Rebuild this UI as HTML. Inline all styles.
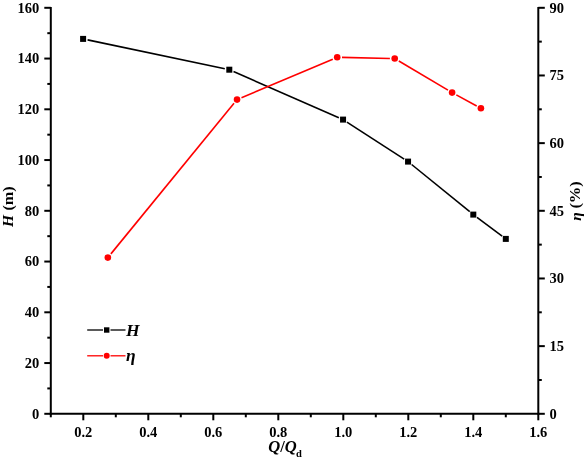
<!DOCTYPE html>
<html><head><meta charset="utf-8"><style>
html,body{margin:0;padding:0;background:#fff;}
body{width:584px;height:460px;overflow:hidden;font-family:"Liberation Serif",serif;}
svg{display:block;will-change:transform;}
</style></head><body>
<svg width="584" height="460" viewBox="0 0 584 460">
<rect width="584" height="460" fill="#fff"/>
<g stroke="#000" stroke-width="2.0" fill="none" stroke-linecap="butt">
<line x1="50.8" y1="6.8999999999999995" x2="50.8" y2="414.8"/>
<line x1="538.3" y1="6.8999999999999995" x2="538.3" y2="414.8"/>
<line x1="49.8" y1="413.8" x2="539.3" y2="413.8"/>
<line x1="50.80" y1="413.8" x2="50.80" y2="417.30"/>
<line x1="83.30" y1="413.8" x2="83.30" y2="420.30"/>
<line x1="115.80" y1="413.8" x2="115.80" y2="417.30"/>
<line x1="148.30" y1="413.8" x2="148.30" y2="420.30"/>
<line x1="180.80" y1="413.8" x2="180.80" y2="417.30"/>
<line x1="213.30" y1="413.8" x2="213.30" y2="420.30"/>
<line x1="245.80" y1="413.8" x2="245.80" y2="417.30"/>
<line x1="278.30" y1="413.8" x2="278.30" y2="420.30"/>
<line x1="310.80" y1="413.8" x2="310.80" y2="417.30"/>
<line x1="343.30" y1="413.8" x2="343.30" y2="420.30"/>
<line x1="375.80" y1="413.8" x2="375.80" y2="417.30"/>
<line x1="408.30" y1="413.8" x2="408.30" y2="420.30"/>
<line x1="440.80" y1="413.8" x2="440.80" y2="417.30"/>
<line x1="473.30" y1="413.8" x2="473.30" y2="420.30"/>
<line x1="505.80" y1="413.8" x2="505.80" y2="417.30"/>
<line x1="538.30" y1="413.8" x2="538.30" y2="420.30"/>
<line x1="50.8" y1="413.80" x2="44.30" y2="413.80"/>
<line x1="50.8" y1="388.43" x2="47.30" y2="388.43"/>
<line x1="50.8" y1="363.05" x2="44.30" y2="363.05"/>
<line x1="50.8" y1="337.68" x2="47.30" y2="337.68"/>
<line x1="50.8" y1="312.30" x2="44.30" y2="312.30"/>
<line x1="50.8" y1="286.93" x2="47.30" y2="286.93"/>
<line x1="50.8" y1="261.55" x2="44.30" y2="261.55"/>
<line x1="50.8" y1="236.18" x2="47.30" y2="236.18"/>
<line x1="50.8" y1="210.80" x2="44.30" y2="210.80"/>
<line x1="50.8" y1="185.43" x2="47.30" y2="185.43"/>
<line x1="50.8" y1="160.05" x2="44.30" y2="160.05"/>
<line x1="50.8" y1="134.68" x2="47.30" y2="134.68"/>
<line x1="50.8" y1="109.30" x2="44.30" y2="109.30"/>
<line x1="50.8" y1="83.93" x2="47.30" y2="83.93"/>
<line x1="50.8" y1="58.55" x2="44.30" y2="58.55"/>
<line x1="50.8" y1="33.18" x2="47.30" y2="33.18"/>
<line x1="50.8" y1="7.80" x2="44.30" y2="7.80"/>
<line x1="538.3" y1="413.80" x2="544.80" y2="413.80"/>
<line x1="538.3" y1="379.97" x2="541.80" y2="379.97"/>
<line x1="538.3" y1="346.13" x2="544.80" y2="346.13"/>
<line x1="538.3" y1="312.30" x2="541.80" y2="312.30"/>
<line x1="538.3" y1="278.47" x2="544.80" y2="278.47"/>
<line x1="538.3" y1="244.63" x2="541.80" y2="244.63"/>
<line x1="538.3" y1="210.80" x2="544.80" y2="210.80"/>
<line x1="538.3" y1="176.97" x2="541.80" y2="176.97"/>
<line x1="538.3" y1="143.13" x2="544.80" y2="143.13"/>
<line x1="538.3" y1="109.30" x2="541.80" y2="109.30"/>
<line x1="538.3" y1="75.47" x2="544.80" y2="75.47"/>
<line x1="538.3" y1="41.63" x2="541.80" y2="41.63"/>
<line x1="538.3" y1="7.80" x2="544.80" y2="7.80"/>
</g>
<g font-family="Liberation Serif" font-weight="bold" font-size="14.5" fill="#000">
<text x="83.30" y="437.0" text-anchor="middle">0.2</text>
<text x="148.30" y="437.0" text-anchor="middle">0.4</text>
<text x="213.30" y="437.0" text-anchor="middle">0.6</text>
<text x="278.30" y="437.0" text-anchor="middle">0.8</text>
<text x="343.30" y="437.0" text-anchor="middle">1.0</text>
<text x="408.30" y="437.0" text-anchor="middle">1.2</text>
<text x="473.30" y="437.0" text-anchor="middle">1.4</text>
<text x="538.30" y="437.0" text-anchor="middle">1.6</text>
<text x="39.3" y="418.70" text-anchor="end">0</text>
<text x="39.3" y="367.95" text-anchor="end">20</text>
<text x="39.3" y="317.20" text-anchor="end">40</text>
<text x="39.3" y="266.45" text-anchor="end">60</text>
<text x="39.3" y="215.70" text-anchor="end">80</text>
<text x="39.3" y="164.95" text-anchor="end">100</text>
<text x="39.3" y="114.20" text-anchor="end">120</text>
<text x="39.3" y="63.45" text-anchor="end">140</text>
<text x="39.3" y="12.70" text-anchor="end">160</text>
<text x="549.5" y="418.70" text-anchor="start">0</text>
<text x="549.5" y="351.03" text-anchor="start">15</text>
<text x="549.5" y="283.37" text-anchor="start">30</text>
<text x="549.5" y="215.70" text-anchor="start">45</text>
<text x="549.5" y="148.03" text-anchor="start">60</text>
<text x="549.5" y="80.37" text-anchor="start">75</text>
<text x="549.5" y="12.70" text-anchor="start">90</text>
</g>
<g stroke="#000" stroke-width="1.6"><line x1="87.60" y1="39.85" x2="224.80" y2="68.75"/><line x1="233.51" y1="71.55" x2="338.84" y2="117.75"/><line x1="346.91" y1="122.10" x2="404.19" y2="159.10"/><line x1="411.62" y1="164.50" x2="469.73" y2="211.70"/><line x1="476.98" y1="217.35" x2="502.12" y2="236.15"/></g>
<g stroke="#f00" stroke-width="1.6"><line x1="110.89" y1="253.88" x2="234.01" y2="103.32"/><line x1="241.47" y1="97.73" x2="332.78" y2="59.17"/><line x1="342.00" y1="57.40" x2="389.90" y2="58.45"/><line x1="398.83" y1="61.00" x2="447.97" y2="90.15"/><line x1="456.31" y1="94.90" x2="476.69" y2="106.00"/></g>
<rect x="80.10" y="35.90" width="6.0" height="6.0" fill="#000"/>
<rect x="226.30" y="66.70" width="6.0" height="6.0" fill="#000"/>
<rect x="340.05" y="116.60" width="6.0" height="6.0" fill="#000"/>
<rect x="405.05" y="158.60" width="6.0" height="6.0" fill="#000"/>
<rect x="470.30" y="211.60" width="6.0" height="6.0" fill="#000"/>
<rect x="502.80" y="235.90" width="6.0" height="6.0" fill="#000"/>
<circle cx="107.85" cy="257.60" r="3.3" fill="#f00"/>
<circle cx="237.05" cy="99.60" r="3.3" fill="#f00"/>
<circle cx="337.20" cy="57.30" r="3.3" fill="#f00"/>
<circle cx="394.70" cy="58.55" r="3.3" fill="#f00"/>
<circle cx="452.10" cy="92.60" r="3.3" fill="#f00"/>
<circle cx="480.90" cy="108.30" r="3.3" fill="#f00"/>
<g stroke-width="1.3">
<line x1="87.2" y1="330" x2="103" y2="330" stroke="#000"/><line x1="110.5" y1="330" x2="125.5" y2="330" stroke="#000"/>
<line x1="87.2" y1="355.8" x2="103" y2="355.8" stroke="#f00"/><line x1="110.5" y1="355.8" x2="125.5" y2="355.8" stroke="#f00"/>
</g>
<rect x="104" y="327.3" width="5.4" height="5.4" fill="#000"/>
<circle cx="106.7" cy="355.8" r="3" fill="#f00"/>
<text x="126" y="335.8" font-family="Liberation Serif" font-weight="bold" font-style="italic" font-size="17.5">H</text>
<text x="126" y="361" font-family="Liberation Serif" font-weight="bold" font-style="italic" font-size="17.5">&#951;</text>
<text transform="translate(13.1,227.1) rotate(-90)" font-family="Liberation Serif" font-weight="bold" font-style="italic" font-size="15.5">H</text>
<text transform="translate(13.1,210.6) rotate(-90) scale(1.04,1)" font-family="Liberation Serif" font-weight="bold" font-size="15.5">(m)</text>
<text transform="translate(580.6,220.8) rotate(-90)" font-family="Liberation Serif" font-weight="bold" font-style="italic" font-size="15.5">&#951;</text>
<text transform="translate(579.8,208.6) rotate(-90) scale(1.06,1)" font-family="Liberation Serif" font-weight="bold" font-size="15.5">(%)</text>
<text x="268.3" y="452.2" font-family="Liberation Serif" font-weight="bold" font-size="16.5"><tspan font-style="italic">Q</tspan>/<tspan font-style="italic">Q</tspan><tspan font-size="10.5" dy="4.3" dx="-0.8">d</tspan></text>
</svg>
</body></html>
